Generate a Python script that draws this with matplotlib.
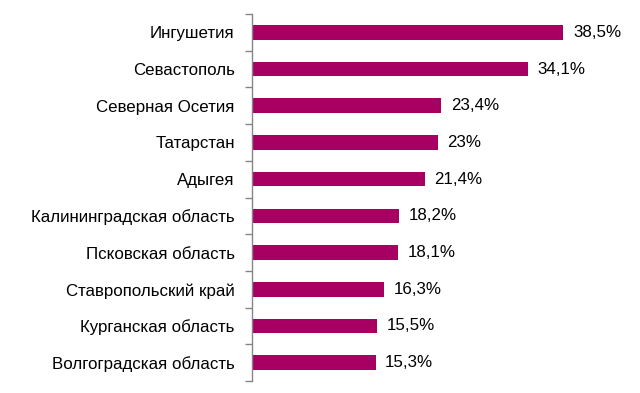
import matplotlib
matplotlib.use("Agg")
import matplotlib.pyplot as plt

regions = ["Ингушетия", "Севастополь", "Северная Осетия", "Татарстан", "Адыгея",
           "Калининградская область", "Псковская область", "Ставропольский край",
           "Курганская область", "Волгоградская область"]
values = [38.5, 34.1, 23.4, 23.0, 21.4, 18.2, 18.1, 16.3, 15.5, 15.3]
value_labels = ["38,5%", "34,1%", "23,4%", "23%", "21,4%", "18,2%", "18,1%", "16,3%", "15,5%", "15,3%"]

plt.rcParams['font.family'] = ['Liberation Sans', 'DejaVu Sans']

fig = plt.figure(figsize=(6.4, 3.93), dpi=100)
ax = fig.add_axes([0.3933, 0.0305, 0.569, 0.9339])

n = len(regions)
ypos = list(range(n))
ax.barh(ypos, values, height=0.4, color='#A80062')
ax.set_ylim(n - 0.5, -0.5)
ax.set_xlim(0, 45)

for y, v, lab in zip(ypos, values, value_labels):
    ax.text(v + 1.2, y, lab, va='center', ha='left', fontsize=12.2, color='#000000')

ax.set_yticks([i - 0.5 for i in range(n + 1)])
ax.set_yticklabels([])
ax.set_yticks(ypos, minor=True)
ax.set_yticklabels(regions, minor=True, fontsize=12.2)
ax.tick_params(axis='y', which='minor', length=0, pad=12.3)
ax.tick_params(axis='y', which='major', length=5, color='#868686', width=1)
ax.set_xticks([])
for s in ['top', 'right', 'bottom']:
    ax.spines[s].set_visible(False)
ax.spines['left'].set_color('#868686')
ax.spines['left'].set_linewidth(1)

fig.savefig('out.png', dpi=100)
